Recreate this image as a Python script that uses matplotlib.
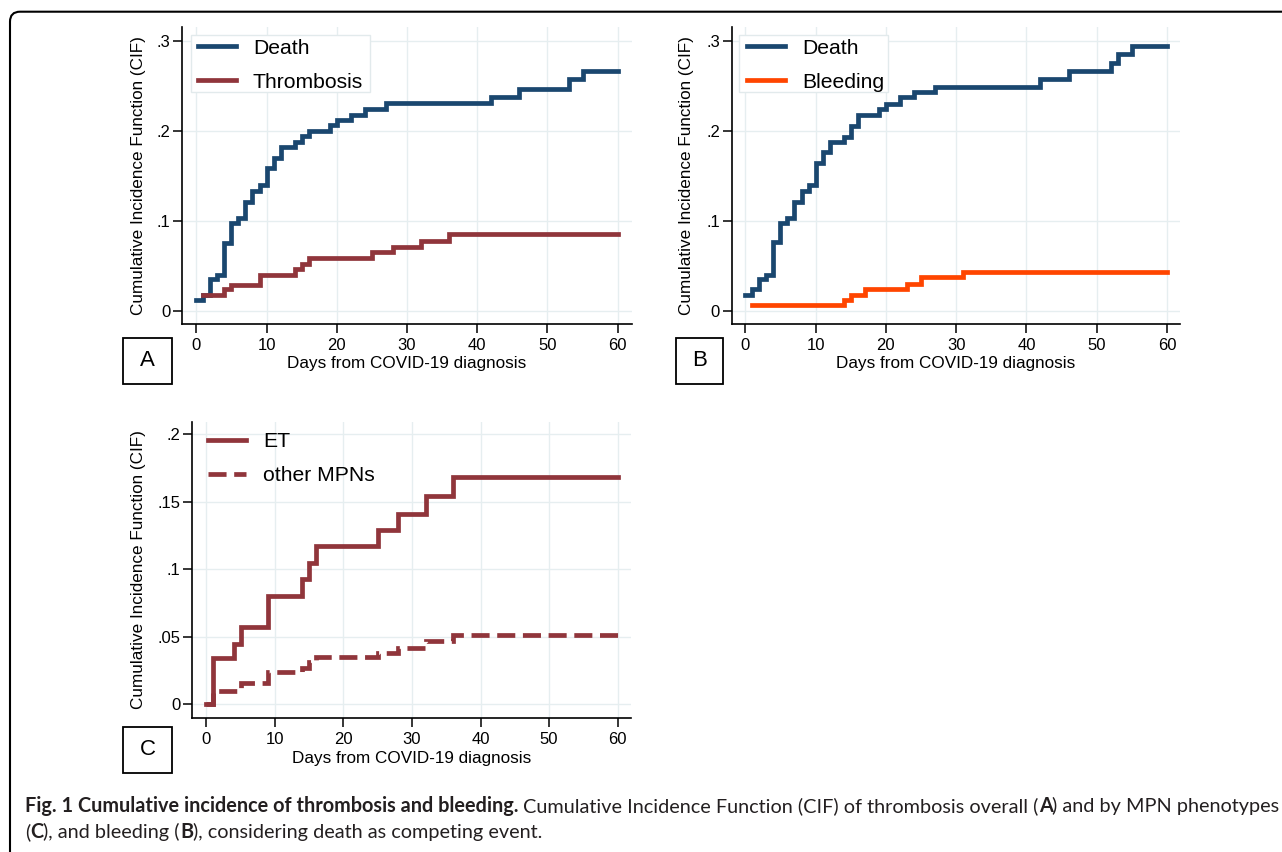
import matplotlib
matplotlib.use('Agg')
import matplotlib.pyplot as plt
from matplotlib.patches import Rectangle, FancyBboxPatch
from matplotlib.font_manager import FontProperties
from matplotlib.transforms import IdentityTransform

W, H = 1282, 852
plt.rcParams['font.family'] = ['Liberation Sans', 'DejaVu Sans']
plt.rcParams['lines.scale_dashes'] = False

NAVY = '#1a476f'
MAROON = '#90353b'
ORANGE = '#ff4500'
GRID = '#e6eef0'

# panel A: death vs thrombosis
days_death_a = [0, 1, 2, 3, 4, 5, 6, 7, 8, 9, 10, 11, 12, 14, 15, 16, 19, 20, 22, 24, 27, 42, 46, 53, 55, 60]
cif_death_a = [0.012, 0.017, 0.035, 0.040, 0.075, 0.098, 0.103, 0.121, 0.133, 0.140, 0.159, 0.170, 0.182,
               0.188, 0.194, 0.200, 0.206, 0.212, 0.218, 0.224, 0.231, 0.238, 0.246, 0.257, 0.266, 0.266]
days_thromb_a = [1, 4, 5, 9, 14, 15, 16, 25, 28, 32, 36, 60]
cif_thromb_a = [0.017, 0.024, 0.029, 0.040, 0.046, 0.052, 0.059, 0.065, 0.071, 0.078, 0.085, 0.085]

# panel B: death vs bleeding
days_death_b = [0, 1, 2, 3, 4, 5, 6, 7, 8, 9, 10, 11, 12, 14, 15, 16, 19, 20, 22, 24, 27, 42, 46, 52, 53, 55, 60]
cif_death_b = [0.017, 0.024, 0.035, 0.040, 0.076, 0.098, 0.103, 0.121, 0.133, 0.140, 0.164, 0.176, 0.187,
               0.193, 0.205, 0.217, 0.224, 0.230, 0.237, 0.243, 0.249, 0.257, 0.266, 0.275, 0.285, 0.294, 0.294]
days_bleed_b = [1, 14, 15, 17, 23, 25, 31, 60]
cif_bleed_b = [0.006, 0.012, 0.018, 0.024, 0.030, 0.037, 0.043, 0.043]

# panel C: thrombosis by phenotype
days_et = [0, 1, 4, 5, 9, 14, 15, 16, 25, 28, 32, 36, 60]
cif_et = [0, 0.034, 0.045, 0.057, 0.080, 0.093, 0.105, 0.117, 0.129, 0.141, 0.154, 0.168, 0.168]
days_other = [0, 1, 5, 9, 14, 15, 16, 25, 28, 32, 36, 60]
cif_other = [0, 0.010, 0.016, 0.024, 0.027, 0.031, 0.035, 0.038, 0.042, 0.047, 0.051, 0.051]

xticks = [0, 10, 20, 30, 40, 50, 60]
yticks_ab = [0, 0.1, 0.2, 0.3]
ylabels_ab = ['0', '.1', '.2', '.3']
yticks_c = [0, 0.05, 0.1, 0.15, 0.2]
ylabels_c = ['0', '.05', '.1', '.15', '.2']

LW = 3.4

fig = plt.figure(figsize=(W / 100, H / 100), dpi=100)
renderer = fig.canvas.get_renderer()


def fx(px):
    return px / W


def fy(py):
    return 1 - py / H


def add_panel(left, right, top, bottom, x0px, x60px, y0px, yref_px, yref_val):
    ax = fig.add_axes([fx(left), fy(bottom), (right - left) / W, (bottom - top) / H])
    ppd = (x60px - x0px) / 60
    ax.set_xlim((left - x0px) / ppd, 60 + (right - x60px) / ppd)
    ppv = (y0px - yref_px) / yref_val
    ax.set_ylim(-(bottom - y0px) / ppv, (y0px - top) / ppv)
    for s in ['top', 'right']:
        ax.spines[s].set_visible(False)
    for s in ['left', 'bottom']:
        ax.spines[s].set_linewidth(1.2)
    ax.tick_params(direction='out', length=6.5, width=1.1, labelsize=12)
    ax.tick_params(axis='x', pad=3.5)
    ax.tick_params(axis='y', pad=2)
    ax.set_xticks(xticks)
    ax.grid(True, color=GRID, lw=1.0)
    ax.set_axisbelow(True)
    return ax


def rect(x0, y0, x1, y1, **kw):
    return Rectangle((fx(x0), fy(y1)), (x1 - x0) / W, (y1 - y0) / H, transform=fig.transFigure, **kw)


def legend_at(ax, x, y, box=None):
    if box is not None:
        ax.add_patch(rect(*box, fc='white', ec='#e2eaec', lw=1.0, zorder=1, clip_on=False))
    ax.legend(loc='upper left', bbox_to_anchor=(fx(x), fy(y)), bbox_transform=fig.transFigure,
              frameon=False, fontsize=15.2, borderpad=0, borderaxespad=0,
              handlelength=1.78, handletextpad=0.82, labelspacing=0.72)


def labels(xl_x, xl_y, yl_x, yl_y, letter, box):
    fig.text(fx(xl_x), fy(xl_y), 'Days from COVID-19 diagnosis', ha='center', va='center', fontsize=12.3)
    fig.text(fx(yl_x), fy(yl_y), 'Cumulative Incidence Function (CIF)', ha='center', va='center',
             rotation=90, fontsize=12.3)
    bx0, by0, bx1, by1 = box
    fig.add_artist(rect(bx0, by0, bx1, by1, fill=False, ec='black', lw=1.3))
    fig.text(fx((bx0 + bx1) / 2), fy((by0 + by1) / 2), letter, ha='center', va='center', fontsize=16)


# A
axA = add_panel(182, 632, 27, 324, 196.3, 617.7, 310.7, 40.7, 0.3)
axA.set_yticks(yticks_ab, ylabels_ab)
axA.step(days_death_a, cif_death_a, where='post', color=NAVY, lw=LW, solid_joinstyle='miter', label='Death')
axA.step(days_thromb_a, cif_thromb_a, where='post', color=MAROON, lw=LW, solid_joinstyle='miter',
         label='Thrombosis')
legend_at(axA, 198, 38.5, box=(190.7, 35, 370, 91.7))
labels(407, 364, 138, 175.5, 'A', (123, 337.7, 172, 384))

# B
axB = add_panel(731.7, 1180, 27, 324, 745.3, 1167, 310.7, 40.7, 0.3)
axB.set_yticks(yticks_ab, ylabels_ab)
axB.step(days_death_b, cif_death_b, where='post', color=NAVY, lw=LW, solid_joinstyle='miter', label='Death')
axB.step(days_bleed_b, cif_bleed_b, where='post', color=ORANGE, lw=LW, solid_joinstyle='miter',
         label='Bleeding')
legend_at(axB, 747, 38.5, box=(739, 35, 888, 91.7))
labels(956, 364, 686.7, 175.5, 'B', (675.7, 337.7, 723.3, 384))

# C
axC = add_panel(192.3, 631, 421.7, 718.3, 206.3, 617.7, 704.3, 434.3, 0.2)
axC.set_yticks(yticks_c, ylabels_c)
axC.step(days_et, cif_et, where='post', color=MAROON, lw=LW, solid_joinstyle='miter', label='ET')
axC.step(days_other, cif_other, where='post', color=MAROON, lw=LW, linestyle=(0, (13, 5.5)),
         dash_joinstyle='miter', label='other MPNs')
legend_at(axC, 208.3, 432)
labels(411.6, 758, 138.3, 570, 'C', (123, 726.7, 172, 773))

# outer rounded frame (runs off the right and bottom edges)
frame = FancyBboxPatch((10, -10), 1300, H - 11.7 + 10, boxstyle='round,pad=0,rounding_size=10',
                       transform=IdentityTransform(), fill=False, ec='black', lw=1.5)
fig.add_artist(frame)

# caption with mixed bold / regular runs
cap_family = ['Lato', 'DejaVu Sans']
line1 = [("Fig. 1 Cumulative incidence of thrombosis and bleeding. ", 'bold'),
         ("Cumulative Incidence Function (CIF) of thrombosis overall (", 'normal'),
         ("A", 'bold'), (") and by MPN phenotypes", 'normal')]
line2 = [("(", 'normal'), ("C", 'bold'), ("), and bleeding (", 'normal'), ("B", 'bold'),
         ("), considering death as competing event.", 'normal')]


def piece_width(s, size, weight):
    fp = FontProperties(family=cap_family, size=size, weight=weight)
    w1 = renderer.get_text_width_height_descent(s + '|', fp, ismath=False)[0]
    w2 = renderer.get_text_width_height_descent('|', fp, ismath=False)[0]
    return w1 - w2


base = 12
w = sum(piece_width(s, base, wt) for s, wt in line1)
cap_size = base * (1278 - 25) / w


def draw_line(parts, baseline):
    x = 25
    for s, wt in parts:
        fig.text(fx(x), fy(baseline), s, fontsize=cap_size, fontweight=wt, family=cap_family,
                 ha='left', va='baseline', color='#231f20')
        x += piece_width(s, cap_size, wt)


draw_line(line1, 812)
draw_line(line2, 838)

fig.savefig('out.png', dpi=100)
